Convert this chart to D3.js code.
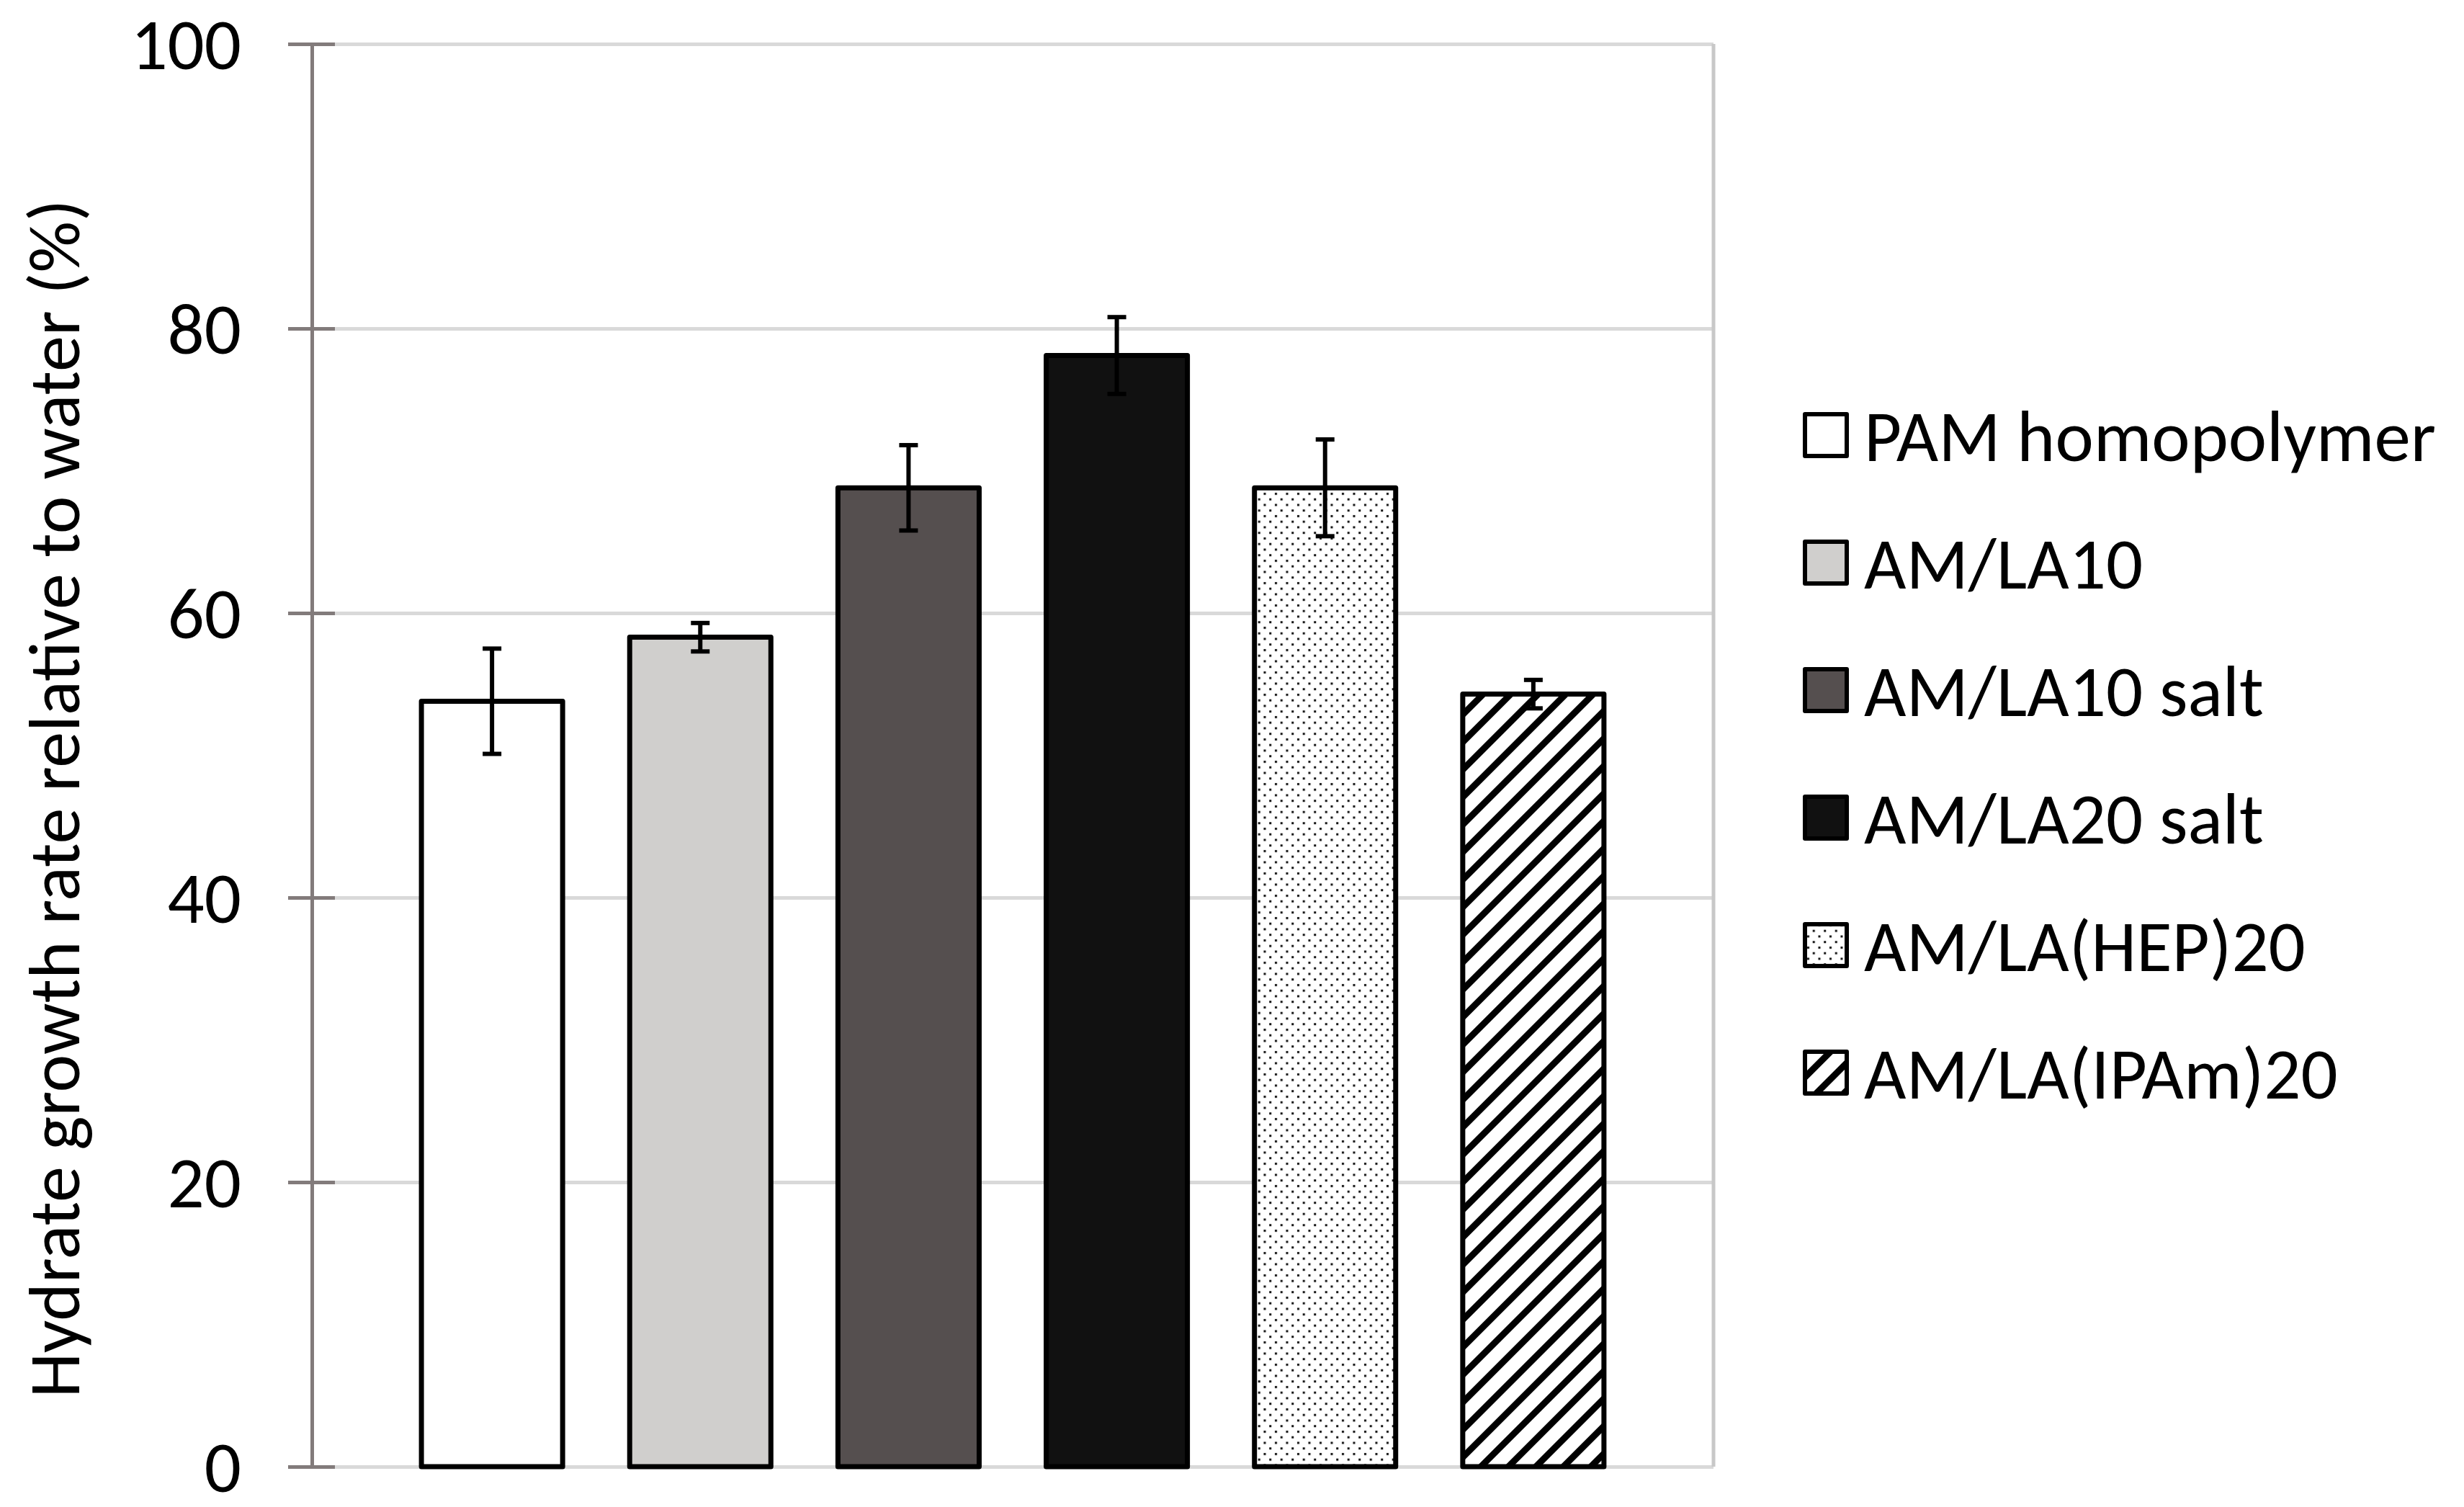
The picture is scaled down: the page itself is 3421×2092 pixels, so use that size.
<!DOCTYPE html>
<html>
<head>
  <meta charset="utf-8">
  <title>Hydrate growth rate</title>
  <script src="https://cdn.jsdelivr.net/npm/d3@7"></script>
  <style>
    body { margin: 0; background: #fff; }
    svg { display: block; }
    text { font-family: Calibri, Carlito, Lato, sans-serif; fill: #000; }
  </style>
</head>
<body>
  <div id="chart"></div>

  <script>
    // data
    const series = ["PAM homopolymer", "AM/LA10", "AM/LA10 salt", "AM/LA20 salt", "AM/LA(HEP)20", "AM/LA(IPAm)20"]
    const values = [53.8, 58.3, 68.8, 78.1, 68.8, 54.3]
    const errors = [3.7, 1.0, 3.0, 2.7, 3.4, 1.0]
    const yTicks = [0, 20, 40, 60, 80, 100]
    const yTitle = "Hydrate growth rate relative to water (%)"

    const fills = ["#ffffff", "#d0cfcd", "#554f4f", "#111111", "url(#dots)", "url(#hatch)"]

    const width = 3421
    const height = 2092
    const margin = { left: 433, right: 3421 - 2379, top: 61, bottom: 2092 - 2036 }
    const fontSize = 101

    const svg = d3.select("#chart")
      .append("svg")
      .attr("width", width)
      .attr("height", height)

    // fill patterns
    const defs = svg.append("defs")
    const dots = defs.append("pattern")
      .attr("id", "dots")
      .attr("patternUnits", "userSpaceOnUse")
      .attr("width", 15.5)
      .attr("height", 15.5)
    dots.append("rect").attr("width", 15.5).attr("height", 15.5).attr("fill", "#fff")
    dots.append("rect").attr("x", 3).attr("y", 2).attr("width", 3).attr("height", 3).attr("fill", "#111")
    dots.append("rect").attr("x", 10.75).attr("y", 9.75).attr("width", 3).attr("height", 3).attr("fill", "#111")

    const hatch = defs.append("pattern")
      .attr("id", "hatch")
      .attr("patternUnits", "userSpaceOnUse")
      .attr("width", 27)
      .attr("height", 27)
      .attr("patternTransform", "rotate(45)")
    hatch.append("rect").attr("width", 27).attr("height", 27).attr("fill", "#fff")
    hatch.append("rect").attr("x", 0).attr("y", 0).attr("width", 9).attr("height", 27).attr("fill", "#000")

    const x = d3.scaleBand()
      .domain(series)
      .range([margin.left, width - margin.right])
      .paddingInner(0.322)
      .paddingOuter(0.526)

    const y = d3.scaleLinear()
      .domain([0, 100])
      .range([height - margin.bottom, margin.top])

    // gridlines
    svg.append("g")
      .attr("transform", `translate(${margin.left},0)`)
      .call(d3.axisLeft(y).tickValues(yTicks).tickSize(-(width - margin.right - margin.left)).tickFormat(""))
      .call(g => g.select(".domain").remove())
      .selectAll("line")
      .attr("stroke", "#d9d9d9")
      .attr("stroke-width", 5)

    // plot area border on the right
    svg.append("line")
      .attr("x1", width - margin.right)
      .attr("x2", width - margin.right)
      .attr("y1", y(100))
      .attr("y2", y(0))
      .attr("stroke", "#c8c8c8")
      .attr("stroke-width", 5)

    // y axis with cross ticks
    const yAxis = svg.append("g")
      .attr("transform", `translate(${margin.left},0)`)
      .call(d3.axisLeft(y).tickValues(yTicks).tickSize(33).tickPadding(65).tickSizeOuter(0))
    yAxis.select(".domain").attr("stroke", "#827b7b").attr("stroke-width", 5)
    yAxis.selectAll(".tick line")
      .attr("x1", 32)
      .attr("stroke", "#827b7b")
      .attr("stroke-width", 5)
    yAxis.selectAll(".tick text")
      .style("font-size", fontSize + "px")
      .attr("dy", "0.34em")

    // bars
    svg.append("g")
      .selectAll("rect")
      .data(series)
      .enter()
      .append("rect")
      .attr("x", d => x(d))
      .attr("y", (d, i) => y(values[i]))
      .attr("width", x.bandwidth())
      .attr("height", (d, i) => y(0) - y(values[i]))
      .attr("fill", (d, i) => fills[i])
      .attr("stroke", "#000")
      .attr("stroke-width", 7)
      .attr("stroke-linejoin", "round")

    // error bars
    const err = svg.append("g")
      .attr("stroke", "#000")
      .attr("stroke-width", 6)
      .selectAll("g")
      .data(series)
      .enter()
      .append("g")
    err.append("line")
      .attr("x1", d => x(d) + x.bandwidth() / 2)
      .attr("x2", d => x(d) + x.bandwidth() / 2)
      .attr("y1", (d, i) => y(values[i] + errors[i]))
      .attr("y2", (d, i) => y(values[i] - errors[i]))
    err.append("line")
      .attr("x1", d => x(d) + x.bandwidth() / 2 - 13)
      .attr("x2", d => x(d) + x.bandwidth() / 2 + 13)
      .attr("y1", (d, i) => y(values[i] + errors[i]))
      .attr("y2", (d, i) => y(values[i] + errors[i]))
    err.append("line")
      .attr("x1", d => x(d) + x.bandwidth() / 2 - 13)
      .attr("x2", d => x(d) + x.bandwidth() / 2 + 13)
      .attr("y1", (d, i) => y(values[i] - errors[i]))
      .attr("y2", (d, i) => y(values[i] - errors[i]))

    // y axis title
    svg.append("text")
      .attr("transform", `translate(110,${(y(0) + y(100)) / 2 + 60}) rotate(-90)`)
      .attr("text-anchor", "middle")
      .style("font-size", (fontSize - 1) + "px")
      .text(yTitle)

    // legend
    const legendY = d3.scalePoint()
      .domain(series)
      .range([604, 1489])

    const legend = svg.append("g")
      .selectAll("g")
      .data(series)
      .enter()
      .append("g")
      .attr("transform", d => `translate(2506,${legendY(d)})`)
    legend.append("rect")
      .attr("x", 0)
      .attr("y", -29)
      .attr("width", 58)
      .attr("height", 58)
      .attr("fill", (d, i) => fills[i])
      .attr("stroke", "#000")
      .attr("stroke-width", 6)
      .attr("stroke-linejoin", "round")
    legend.append("text")
      .attr("x", 82)
      .attr("dy", "0.36em")
      .style("font-size", fontSize + "px")
      .text(d => d)
  </script>
</body>
</html>
